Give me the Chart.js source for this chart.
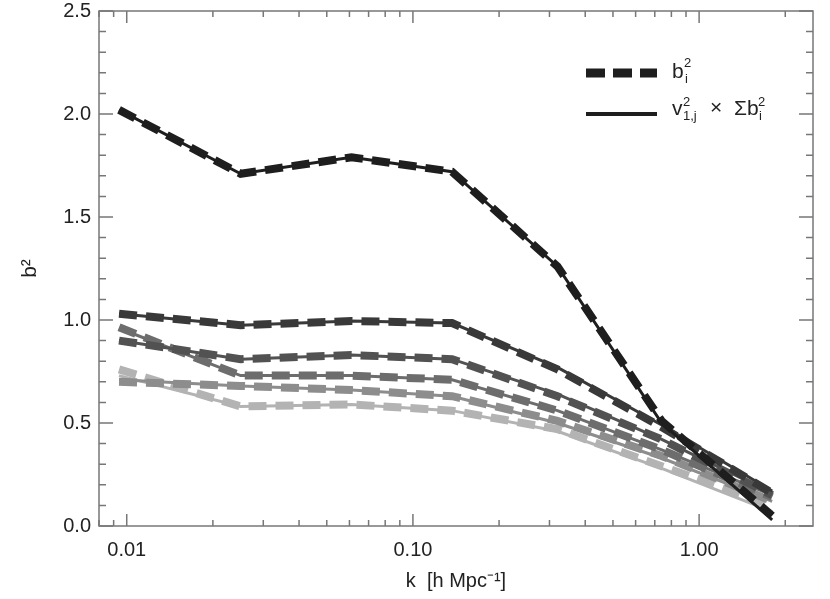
<!DOCTYPE html>
<html>
  <head>
    <meta charset="utf-8">
    <title>b^2 vs k</title>
    <style>
      body { margin: 0; background: #fff; }
      #wrap { width: 830px; height: 599px; }
    </style>
  </head>
  <body>
    <div id="wrap"><canvas id="chart" width="830" height="599"></canvas></div>

    <script src="https://cdn.jsdelivr.net/npm/chart.js"></script>
    <script>
      // wavenumbers (h/Mpc)
      const k = [0.0094, 0.025, 0.061, 0.137, 0.32, 0.74, 1.8];

      // b_i^2, dashed lines (top to bottom)
      const bA = [2.02, 1.71, 1.79, 1.72, 1.26, 0.51, 0.05];
      const bB = [1.03, 0.975, 0.995, 0.985, 0.76, 0.48, 0.16];
      const bC = [0.90, 0.81, 0.83, 0.81, 0.63, 0.42, 0.15];
      const bD = [0.965, 0.73, 0.73, 0.71, 0.56, 0.37, 0.14];
      const bE = [0.70, 0.68, 0.66, 0.63, 0.51, 0.34, 0.12];
      const bF = [0.76, 0.58, 0.59, 0.56, 0.47, 0.29, 0.10];

      // v_{1,j}^2 x sum b_i^2, solid lines
      const vA = [2.02, 1.71, 1.79, 1.72, 1.26, 0.50, 0.03];
      const vB = [1.03, 0.975, 0.995, 0.985, 0.77, 0.49, 0.17];
      const vC = [0.90, 0.81, 0.83, 0.81, 0.64, 0.42, 0.16];
      const vD = [0.96, 0.73, 0.73, 0.71, 0.56, 0.37, 0.15];
      const vE = [0.71, 0.68, 0.66, 0.63, 0.50, 0.33, 0.12];
      const vF = [0.73, 0.58, 0.59, 0.56, 0.46, 0.28, 0.07];

      const xTicks = [0.01, 0.1, 1];
      const greys = ['#1e1e1e', '#393939', '#525252', '#6d6d6d', '#8d8d8d', '#b3b3b3'];

      const dashedSets = [bA, bB, bC, bD, bE, bF];
      const solidSets = [vA, vB, vC, vD, vE, vF];

      const font = "'Liberation Sans', Arial, sans-serif";

      let datasets = [];
      for (let i = 0; i < dashedSets.length; i++) {
        datasets.push({
          data: k.map((x, j) => ({x: x, y: solidSets[i][j]})),
          borderColor: greys[i],
          borderWidth: 3,
          pointRadius: 0,
          order: i * 2 + 1
        });
        datasets.push({
          data: k.map((x, j) => ({x: x, y: dashedSets[i][j]})),
          borderColor: greys[i],
          borderWidth: 8,
          borderDash: [18, 9],
          borderCapStyle: 'butt',
          pointRadius: 0,
          order: i * 2
        });
      }

      // box, inward ticks and legend
      const frame = {
        id: 'frame',
        afterDraw(chart) {
          const c = chart.ctx, a = chart.chartArea;
          const xs = chart.scales.x, ys = chart.scales.y;
          c.save();
          c.strokeStyle = '#777';
          c.lineWidth = 1.5;
          c.strokeRect(a.left, a.top, a.right - a.left, a.bottom - a.top);
          c.beginPath();
          for (let i = 0; i <= 25; i++) {
            const y = ys.getPixelForValue(i / 10);
            const len = i % 5 == 0 ? 14 : 7;
            c.moveTo(a.left, y); c.lineTo(a.left + len, y);
            c.moveTo(a.right, y); c.lineTo(a.right - len, y);
          }
          for (let d = 0.001; d < 10; d *= 10) {
            for (let m = 1; m < 10; m++) {
              const v = d * m;
              if (v < 0.008 || v > 2.5) continue;
              const x = xs.getPixelForValue(v);
              const len = m == 1 ? 12 : 6;
              c.moveTo(x, a.bottom); c.lineTo(x, a.bottom - len);
              c.moveTo(x, a.top); c.lineTo(x, a.top + len);
            }
          }
          c.stroke();

          // legend
          c.strokeStyle = '#1e1e1e';
          c.lineCap = 'butt';
          c.lineWidth = 9;
          c.setLineDash([19, 8]);
          c.beginPath(); c.moveTo(586, 73); c.lineTo(657, 73); c.stroke();
          c.setLineDash([]);
          c.lineWidth = 4;
          c.beginPath(); c.moveTo(586, 114); c.lineTo(657, 114); c.stroke();

          c.fillStyle = '#222';
          c.textBaseline = 'alphabetic';
          c.textAlign = 'left';
          const big = '21px ' + font, small = '13px ' + font;
          c.font = big; c.fillText('b', 672, 78);
          c.font = small; c.fillText('2', 684, 67); c.fillText('i', 685, 83);

          c.font = big; c.fillText('v', 672, 115);
          c.font = small; c.fillText('2', 683, 106); c.fillText('1,j', 683, 120);
          c.font = big; c.fillText('\u00d7', 710, 114);
          c.fillText('\u03a3b', 734, 115);
          c.font = small; c.fillText('2', 758, 106); c.fillText('i', 759, 120);
          c.restore();
        }
      };

      // keep the tick labels from pushing the plot area in
      const noPad = s => { s.paddingTop = 0; s.paddingBottom = 0; s.paddingLeft = 0; s.paddingRight = 0; };

      new Chart(document.getElementById('chart'), {
        type: 'line',
        data: {datasets: datasets},
        options: {
          responsive: false,
          animation: false,
          layout: {padding: {top: 11, right: 17, left: 0, bottom: 0}},
          plugins: {legend: {display: false}, tooltip: {enabled: false}},
          scales: {
            x: {
              type: 'logarithmic',
              min: 0.008,
              max: 2.5,
              grid: {display: false, drawTicks: false},
              border: {display: false},
              afterBuildTicks: s => { s.ticks = xTicks.map(v => ({value: v})); },
              afterFit: s => { s.height = 73; noPad(s); },
              ticks: {
                autoSkip: false, maxRotation: 0, padding: 12,
                color: '#222', font: {family: font, size: 20},
                callback: v => Number(v).toFixed(2)
              },
              title: {
                display: true, text: 'k  [h Mpc\u207b\u00b9]', color: '#222',
                font: {family: font, size: 20}, padding: {top: 0, bottom: 6}
              }
            },
            y: {
              min: 0,
              max: 2.5,
              grid: {display: false, drawTicks: false},
              border: {display: false},
              afterFit: s => { s.width = 99; noPad(s); },
              ticks: {
                stepSize: 0.5, padding: 8,
                color: '#222', font: {family: font, size: 20},
                callback: v => Number(v).toFixed(1)
              },
              title: {
                display: true, text: 'b\u00b2', color: '#222',
                font: {family: font, size: 21}, padding: {top: 18, bottom: 0}
              }
            }
          }
        },
        plugins: [frame]
      });
    </script>
  </body>
</html>
